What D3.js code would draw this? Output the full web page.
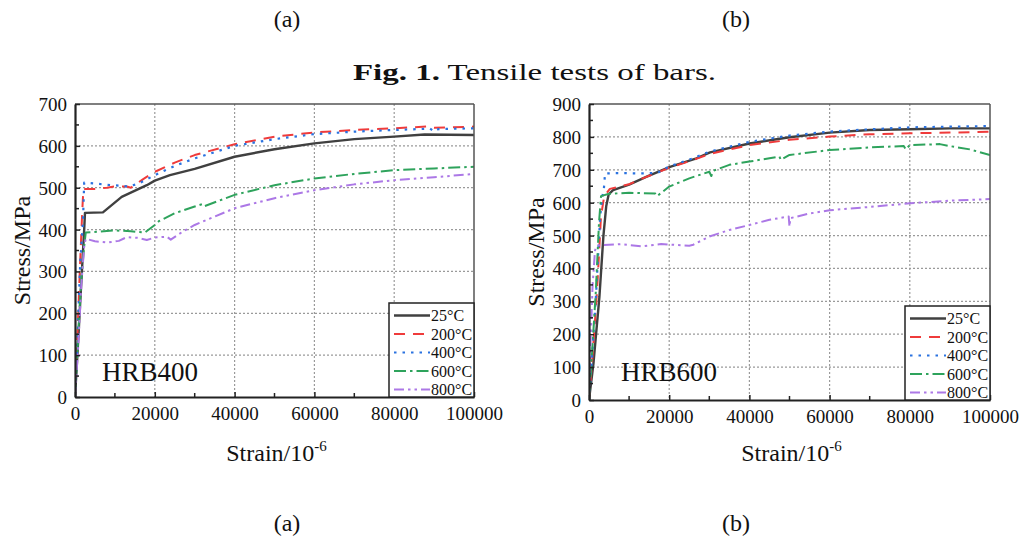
<!DOCTYPE html>
<html>
<head>
<meta charset="utf-8">
<script src="https://cdn.jsdelivr.net/npm/d3@7"></script>
<style>
  body { margin: 0; background: #fff; }
  text { font-family: "Liberation Serif", "Times New Roman", serif; fill: #111; }
</style>
</head>
<body>
<svg id="fig" width="1026" height="542"></svg>
<script>
// Tensile test curves (strain in 10^-6, stress in MPa)

const temperatures = ["25°C", "200°C", "400°C", "600°C", "800°C"];
const strainTicks = [0, 20000, 40000, 60000, 80000, 100000];
const hrb400StressTicks = [0, 100, 200, 300, 400, 500, 600, 700];
const hrb600StressTicks = [0, 100, 200, 300, 400, 500, 600, 700, 800, 900];

// HRB400
const hrb400_25 = [[0,0],[600,100],[1500,260],[2300,400],[2500,440],[7000,441],[11700,478],[18000,506],[20000,517],[23800,530],[30000,545],[40000,574],[50000,592],[60000,606],[70000,616],[80000,622],[87600,627],[100000,626]];
const hrb400_200 = [[0,0],[500,120],[1200,300],[1800,440],[2100,497],[5000,497],[8000,500],[10000,503],[13000,503],[14000,500],[17000,520],[20000,538],[25000,560],[30000,578],[40000,604],[50000,622],[60000,632],[70000,638],[80000,642],[88000,646],[90000,643],[100000,646]];
const hrb400_400 = [[0,0],[600,130],[1300,320],[2000,420],[2300,512],[5000,510],[8000,507],[11000,505],[13500,503],[16000,510],[20000,530],[25000,552],[30000,570],[40000,600],[50000,616],[60000,628],[70000,634],[80000,638],[89000,641],[90000,634],[91000,640],[100000,642]];
const hrb400_600 = [[0,0],[700,130],[1500,270],[2300,360],[2700,393],[6000,395],[10000,398],[14000,396],[17500,393],[20000,411],[21000,420],[25000,439],[30000,455],[32000,461],[32500,456],[40000,483],[50000,506],[60000,522],[70000,533],[80000,542],[90000,546],[100000,550]];
const hrb400_800 = [[0,0],[800,120],[1600,270],[2300,360],[2700,378],[5000,372],[8000,369],[11000,373],[13000,382],[16000,380],[18000,375],[20000,381],[23000,383],[24000,376],[27000,395],[30000,411],[40000,451],[50000,475],[60000,494],[70000,508],[80000,518],[90000,525],[100000,533]];

// HRB600
const hrb600_25 = [[0,0],[1100,110],[2600,314],[3600,500],[4300,590],[4900,625],[6000,638],[10000,655],[14400,679],[20200,709],[26800,735],[30200,753],[40000,780],[50000,799],[60000,813],[70000,821],[80000,823],[90000,826],[100000,826]];
const hrb600_200 = [[0,0],[800,120],[2000,330],[3000,560],[3800,620],[5200,642],[8000,650],[10000,656],[14000,677],[20000,706],[26000,730],[30000,748],[40000,775],[50000,791],[60000,801],[70000,808],[80000,811],[90000,813],[100000,816]];
const hrb600_400 = [[0,0],[700,120],[1800,330],[2800,560],[3300,618],[3700,640],[4000,689],[8000,690],[12000,689],[17000,690],[20000,710],[26000,735],[30000,755],[40000,785],[50000,804],[60000,816],[70000,823],[80000,829],[90000,831],[100000,833]];
const hrb600_600 = [[0,0],[700,130],[1700,330],[2500,540],[3000,620],[5000,627],[10000,630],[16500,628],[17000,620],[20000,649],[25000,674],[30000,694],[30500,681],[31000,697],[35000,715],[40000,725],[45000,735],[47500,740],[47800,730],[50000,745],[60000,760],[70000,768],[78500,772],[79000,762],[80000,775],[87500,778],[90000,772],[95000,762],[100000,745]];
const hrb600_800 = [[0,0],[400,180],[900,350],[1500,455],[2000,470],[8000,474],[13000,467],[18000,474],[25000,469],[26000,472],[30000,497],[35000,517],[40000,532],[45000,548],[49800,558],[50000,527],[50200,553],[55000,567],[60000,577],[70000,587],[80000,598],[90000,606],[100000,611]];

const colors = ["#404040", "#ef3b3b", "#2a72e0", "#2ea35c", "#ac78e6"];
const dashes = [null, "11,8", "2.5,6", "12,4,2.5,4", "10,4,2.5,4,2.5,4"];
const widths = [2.4, 2, 2.2, 2, 2];

const svg = d3.select("#fig");

function drawPanel(opt) {
  const x = d3.scaleLinear().domain([0, 100000]).range([opt.left, opt.right]);
  const y = d3.scaleLinear().domain([0, opt.ymax]).range([opt.bottom, opt.top]);
  const g = svg.append("g");

  // dotted grid at the major ticks
  g.append("g").selectAll("line").data(strainTicks.slice(1, -1)).join("line")
    .attr("x1", d => x(d)).attr("x2", d => x(d))
    .attr("y1", opt.top).attr("y2", opt.bottom)
    .attr("stroke", "#9a9a9a").attr("stroke-width", 1.2).attr("stroke-dasharray", "2,2");
  g.append("g").selectAll("line").data(opt.yticks.slice(1, -1)).join("line")
    .attr("y1", d => y(d)).attr("y2", d => y(d))
    .attr("x1", opt.left).attr("x2", opt.right)
    .attr("stroke", "#9a9a9a").attr("stroke-width", 1.2).attr("stroke-dasharray", "2,2");

  // curves
  const clipId = "clip" + opt.id;
  svg.append("clipPath").attr("id", clipId).append("rect")
    .attr("x", opt.left).attr("y", opt.top - 2)
    .attr("width", opt.right - opt.left).attr("height", opt.bottom - opt.top + 2);
  const line = d3.line().x(d => x(d[0])).y(d => y(d[1]));
  g.append("g").attr("clip-path", `url(#${clipId})`)
    .selectAll("path").data(opt.series).join("path")
    .attr("d", line)
    .attr("fill", "none")
    .attr("stroke", (d, i) => colors[i])
    .attr("stroke-width", (d, i) => widths[i])
    .attr("stroke-dasharray", (d, i) => dashes[i])
    .attr("stroke-linejoin", "round");

  // frame: top and right thinner
  g.append("line").attr("x1", opt.left).attr("x2", opt.right).attr("y1", opt.top).attr("y2", opt.top)
    .attr("stroke", "#555").attr("stroke-width", 1.5);
  g.append("line").attr("x1", opt.right).attr("x2", opt.right).attr("y1", opt.top).attr("y2", opt.bottom)
    .attr("stroke", "#555").attr("stroke-width", 1.5);

  // axes with inward ticks
  const xMinor = d3.range(10000, 100000, 20000);
  const yMinor = d3.range(50, opt.ymax, 100);
  const xAxis = g.append("g").attr("transform", `translate(0,${opt.bottom})`)
    .call(d3.axisBottom(x).tickValues(strainTicks).tickSizeInner(-5).tickSizeOuter(0).tickPadding(10).tickFormat(d3.format("d")));
  xAxis.append("g").selectAll("line").data(xMinor).join("line")
    .attr("x1", d => x(d)).attr("x2", d => x(d)).attr("y1", 0).attr("y2", -4)
    .attr("stroke", "#222").attr("stroke-width", 1.5);
  const yAxis = g.append("g").attr("transform", `translate(${opt.left},0)`)
    .call(d3.axisLeft(y).tickValues(opt.yticks).tickSizeInner(-5).tickSizeOuter(0).tickPadding(8).tickFormat(d3.format("d")));
  yAxis.append("g").selectAll("line").data(yMinor).join("line")
    .attr("y1", d => y(d)).attr("y2", d => y(d)).attr("x1", 0).attr("x2", 4)
    .attr("stroke", "#222").attr("stroke-width", 1.5);
  [xAxis, yAxis].forEach(a => {
    a.select(".domain").attr("stroke", "#222").attr("stroke-width", 2.2);
    a.selectAll(".tick line").attr("stroke", "#222").attr("stroke-width", 1.5);
    a.selectAll("text").attr("font-family", "Liberation Serif").attr("font-size", 19).attr("fill", "#111");
  });
  yAxis.selectAll(".tick text").attr("dy", "0.34em");

  // axis titles
  const xt = g.append("text").attr("x", (opt.left + opt.right) / 2 + 2).attr("y", 461)
    .attr("text-anchor", "middle").attr("font-size", 24);
  xt.append("tspan").text("Strain/10");
  xt.append("tspan").attr("font-size", 15).attr("dy", -10).text("-6");
  g.append("text")
    .attr("transform", `translate(${opt.left - 45},${(opt.top + opt.bottom) / 2}) rotate(-90)`)
    .attr("text-anchor", "middle").attr("font-size", 24).text("Stress/MPa");

  // grade label
  g.append("text").attr("x", opt.labelX).attr("y", 381).attr("font-size", 27).text(opt.grade);

  // legend
  const lg = g.append("g");
  lg.append("rect").attr("x", opt.legendX).attr("y", opt.legendY)
    .attr("width", opt.right - opt.legendX).attr("height", opt.bottom - opt.legendY)
    .attr("fill", "#fff").attr("stroke", "#222").attr("stroke-width", 1.5);
  const rows = lg.selectAll("g").data(temperatures).join("g")
    .attr("transform", (d, i) => `translate(${opt.legendX},${opt.legendY + 12.5 + i * 18.5})`);
  rows.append("line").attr("x1", 5).attr("x2", 41)
    .attr("stroke", (d, i) => colors[i])
    .attr("stroke-width", (d, i) => widths[i])
    .attr("stroke-dasharray", (d, i) => dashes[i]);
  rows.append("text").attr("x", 42).attr("dy", "0.35em").attr("text-anchor", "start")
    .attr("font-size", 16).text(d => d);
}

drawPanel({ id: "a", left: 75, right: 474, top: 104, bottom: 397, ymax: 700, yticks: hrb400StressTicks,
  series: [hrb400_25, hrb400_200, hrb400_400, hrb400_600, hrb400_800],
  grade: "HRB400", labelX: 102, legendX: 389, legendY: 303 });
drawPanel({ id: "b", left: 589, right: 990, top: 104, bottom: 400, ymax: 900, yticks: hrb600StressTicks,
  series: [hrb600_25, hrb600_200, hrb600_400, hrb600_600, hrb600_800],
  grade: "HRB600", labelX: 621, legendX: 905, legendY: 306 });

// captions
svg.append("text").attr("x", 287).attr("y", 27).attr("text-anchor", "middle").attr("font-size", 24).text("(a)");
svg.append("text").attr("x", 736).attr("y", 27).attr("text-anchor", "middle").attr("font-size", 24).text("(b)");
const cap = svg.append("text").attr("x", 353).attr("y", 80).attr("font-size", 23)
  .attr("textLength", 363).attr("lengthAdjust", "spacingAndGlyphs");
cap.append("tspan").attr("font-weight", "bold").text("Fig. 1.");
cap.append("tspan").text(" Tensile tests of bars.");
svg.append("text").attr("x", 287).attr("y", 531).attr("text-anchor", "middle").attr("font-size", 24).text("(a)");
svg.append("text").attr("x", 736).attr("y", 531).attr("text-anchor", "middle").attr("font-size", 24).text("(b)");
</script>
</body>
</html>
